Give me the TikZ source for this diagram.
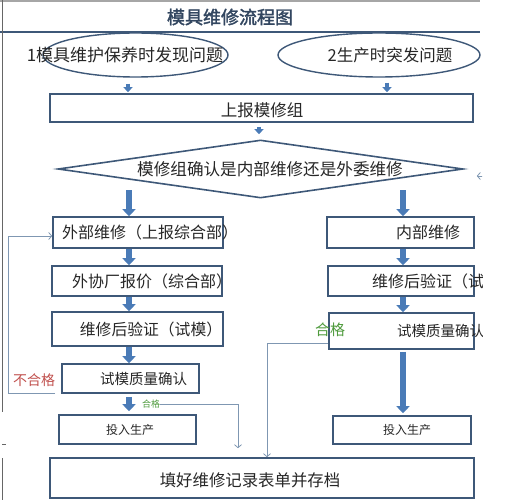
\documentclass[tikz,border=0pt]{standalone}
\usepackage{fontspec}
\setmainfont{Noto Sans CJK SC}
\newfontfamily\titlefont[FakeBold=2]{Noto Sans CJK SC}
\usetikzlibrary{arrows.meta,shapes.geometric}
\definecolor{boxline}{HTML}{3E5878}
\definecolor{arrowblue}{HTML}{4A7BB7}
\definecolor{thinline}{HTML}{7F97B2}
\definecolor{txtgray}{HTML}{262626}
\definecolor{nored}{HTML}{C0504D}
\definecolor{okgreen}{HTML}{4E9A3C}
\newcommand{\fs}[1]{\fontsize{#1}{#1}\selectfont}

\begin{document}
\begin{tikzpicture}[x=1pt,y=-1pt,
    box/.style={draw=boxline,line width=1.6pt,inner sep=0pt},
    oval/.style={ellipse,draw=boxline,line width=1.4pt,inner sep=0pt},
    txt/.style={text=txtgray,inner sep=0pt},
    fat/.style={draw=arrowblue,line width=6pt,-{Triangle[width=13pt,length=7pt]}},
    slim/.style={draw=arrowblue,line width=3.6pt,-{Triangle[width=9pt,length=5pt]}},
    link/.style={draw=thinline,line width=0.8pt,-{Straight Barb[length=3pt,width=7pt]}}]
  \def\lx{129} \def\rx{403}
  \useasboundingbox (0,0) rectangle (527,500);

  % frame and title
  \draw[gray!70,line width=1.2pt] (0,1) -- (480,1);
  \draw[boxline,line width=1.2pt] (0,32) -- (480,32);
  \draw[gray!80!black,line width=0.9pt] (2,0) -- (2,412);
  \draw[gray!80!black,line width=0.9pt] (2,458) -- (2,500);
  \draw[gray!80!black,line width=0.9pt] (2,444) -- (6,444);
  \node[text=boxline!80!black,inner sep=0pt] (title) at (230,17) {\titlefont\fs{18}模具维修流程图};

  % top part
  \node[oval,minimum width=185,minimum height=44] (e1) at (135.5,55) {};
  \node[txt] (e1t) at (125,55) {\fs{17}1模具维护保养时发现问题};
  \node[oval,minimum width=202,minimum height=44] (e2) at (379,55) {};
  \node[txt] (e2t) at (390,55) {\fs{16.5}2生产时突发问题};
  \node[box,minimum width=423,minimum height=28] (report) at (261.5,108) {};
  \node[txt] (reportt) at (262,110) {\fs{16.5}上报模修组};
  \node[diamond,draw=boxline,line width=1.6pt,inner sep=0pt,
        minimum width=405,minimum height=58] (dia) at (260.5,169) {};
  \node[txt] (diat) at (270,169) {\fs{16.6}模修组确认是内部维修还是外委维修};

  % left column
  \node[box,minimum width=170,minimum height=31] (ext) at (138,232.5) {};
  \node[txt] (extt) at (150,232.5) {\fs{16}外部维修（上报综合部）};
  \node[box,minimum width=170,minimum height=30] (quote) at (137,281) {};
  \node[txt] (quotet) at (152,281) {\fs{16}外协厂报价（综合部）};
  \node[box,minimum width=171,minimum height=34] (verify) at (137.5,329) {};
  \node[txt] (verifyt) at (151,329) {\fs{15.8}维修后验证（试模）};
  \node[box,minimum width=137,minimum height=29] (qc) at (130.5,378.5) {};
  \node[txt] (qct) at (143.5,378.5) {\fs{14.5}试模质量确认};
  \node[box,minimum width=137,minimum height=29] (prod) at (127.5,429.5) {};
  \node[txt] (prodt) at (130,430) {\fs{12}投入生产};
  \node[text=nored,inner sep=0pt] (fail) at (34,380) {\fs{14}不合格};
  \node[text=okgreen,inner sep=0pt] (okl) at (151,404) {\fs{9}合格};

  % right column
  \node[box,minimum width=147,minimum height=31] (intern) at (400.5,232.5) {};
  \node[txt] (internt) at (428,232.5) {\fs{16}内部维修};
  \node[box,minimum width=146,minimum height=30] (verifyr) at (401,281) {};
  \node[box,minimum width=145,minimum height=36] (qcr) at (401.5,331) {};
  \node[box,minimum width=138,minimum height=28] (prodr) at (402,430) {};
  \node[txt] (prodrt) at (407,430) {\fs{12}投入生产};
  \node[text=okgreen,inner sep=0pt] (okr) at (330,330) {\fs{15}合格};

  \node[box,minimum width=424,minimum height=40] (record) at (262,478) {};
  \node[txt] (recordt) at (250,480) {\fs{16.4}填好维修记录表单并存档};

  \begin{scope}
    \clip (0,0) rectangle (482,500);
    \node[txt] (verifyrt) at (444,281) {\fs{16}维修后验证（试模）};
    \node[txt] (qcrt) at (440.5,331) {\fs{14.5}试模质量确认};
    \coordinate (offr) at (500,176);
    \draw[link,shorten >=13pt] (offr) -- (dia.east |- offr);
  \end{scope}

  % block arrows
  \draw[slim,shorten <=6pt,shorten >=1pt] (e1.south -| 128,0) -- (report.north -| 128,0);
  \draw[slim,shorten <=5pt,shorten >=1pt] (e2.south -| 387,0) -- (report.north -| 387,0);
  \draw[slim,shorten <=4pt,shorten >=5pt] (report.south -| 259,0) -- (dia.north -| 259,0);
  \coordinate (dl) at (\lx,190);
  \coordinate (dr) at (\rx,190);
  \draw[fat] (dl) -- (ext.north -| dl);
  \draw[fat] (dr) -- (intern.north -| dr);
  \draw[fat] (ext.south -| \lx,0) -- (quote.north -| \lx,0);
  \draw[fat] (quote.south -| \lx,0) -- (verify.north -| \lx,0);
  \draw[fat] (verify.south -| \lx,0) -- (qc.north -| \lx,0);
  \draw[fat,shorten <=3pt,shorten >=3pt] (qc.south -| \lx,0) -- (prod.north -| \lx,0);
  \draw[fat] (intern.south -| \rx,0) -- (verifyr.north -| \rx,0);
  \draw[fat] (verifyr.south -| \rx,0) -- (qcr.north -| \rx,0);
  \draw[fat,shorten <=2pt,shorten >=2pt] (qcr.south -| \rx,0) -- (prodr.north -| \rx,0);

  % thin connectors
  \coordinate (nofb) at (55,393);
  \draw[link] (nofb) -- (8,393) |- (ext.west |- 0,236);
  \draw[link,shorten >=9pt] (okl.east) -| (record.north -| 238,0);
  \draw[link] (qcr.west |- 0,343) -| (record.north -| 267,0);
\end{tikzpicture}
\end{document}
